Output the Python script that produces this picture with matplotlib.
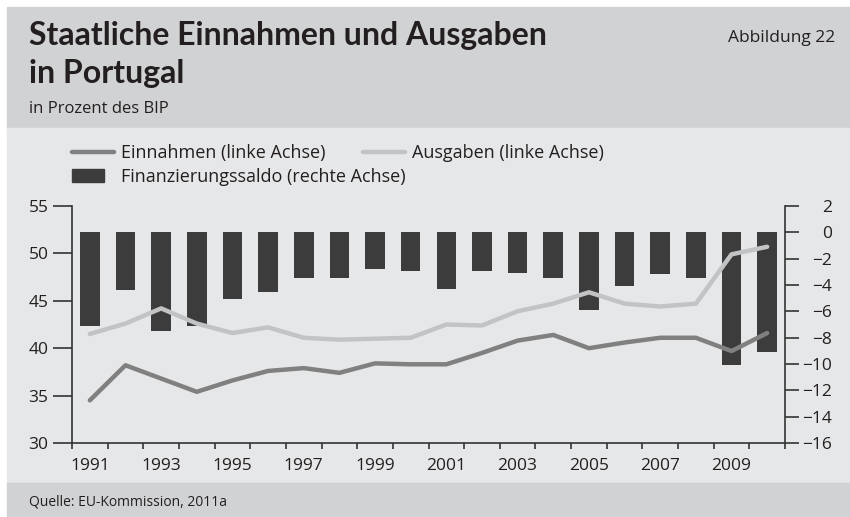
import numpy as np
import matplotlib.pyplot as plt
from matplotlib.patches import Rectangle, Patch
from matplotlib.lines import Line2D

years = np.arange(1991, 2011)
einnahmen = [34.5, 38.2, 36.8, 35.4, 36.6, 37.6, 37.9, 37.4, 38.4, 38.3,
             38.3, 39.5, 40.8, 41.4, 40.0, 40.6, 41.1, 41.1, 39.7, 41.6]
ausgaben = [41.5, 42.6, 44.2, 42.6, 41.6, 42.2, 41.1, 40.9, 41.0, 41.1,
            42.5, 42.4, 43.9, 44.7, 45.9, 44.7, 44.4, 44.7, 49.9, 50.7]
saldo = [-7.1, -4.4, -7.5, -7.1, -5.1, -4.5, -3.5, -3.5, -2.8, -2.9,
         -4.3, -2.9, -3.1, -3.5, -5.9, -4.1, -3.2, -3.5, -10.1, -9.1]
year_labels = [str(y) for y in range(1991, 2010, 2)]

W, H = 850, 517
txt = '#231f20'
plt.rcParams['font.family'] = ['Open Sans', 'DejaVu Sans']

fig = plt.figure(figsize=(W / 100, H / 100), dpi=100)

def px_rect(x0, y0, x1, y1, color):
    # rectangle in pixel coords, y measured from the top
    fig.patches.append(Rectangle((x0 / W, 1 - y1 / H), (x1 - x0) / W, (y1 - y0) / H,
                                 transform=fig.transFigure, color=color, zorder=-10))

px_rect(7, 7, W, 128, '#d1d2d4')
px_rect(7, 128, W, 483, '#e6e7e8')
px_rect(7, 483, W, H, '#d1d2d4')

title_kw = dict(fontsize=23, fontweight='bold', color=txt, va='baseline',
                family=['Lato', 'DejaVu Sans'])
fig.text(29 / W, 1 - 45 / H, 'Staatliche Einnahmen und Ausgaben', **title_kw)
fig.text(29 / W, 1 - 83 / H, 'in Portugal', **title_kw)
fig.text(29 / W, 1 - 113 / H, 'in Prozent des BIP', fontsize=12, color=txt, va='baseline')
fig.text(835 / W, 1 - 42 / H, 'Abbildung 22', fontsize=12.5, color=txt, va='baseline', ha='right')
fig.text(29 / W, 1 - 505 / H, 'Quelle: EU-Kommission, 2011a', fontsize=10, color=txt, va='baseline')

ax = fig.add_axes([72 / W, 74 / H, (785 - 72) / W, 237 / H])
ax.set_facecolor('none')
ax2 = ax.twinx()

ax2.bar(years, saldo, width=0.55, color='#3c3c3c', zorder=1)
ax.set_zorder(ax2.get_zorder() + 1)
ax.plot(years, ausgaben, color='#c2c3c5', lw=3.2, solid_capstyle='round')
ax.plot(years, einnahmen, color='#808080', lw=3.2, solid_capstyle='round')

ax.set_xlim(1990.5, 2010.5)
ax.set_ylim(30, 55)
ax2.set_ylim(-16, 2)

ax.set_xticks(np.arange(1990.5, 2011, 1))
ax.set_xticklabels([])
ax.set_xticks(np.arange(1991, 2010, 2), minor=True)
ax.set_xticklabels(year_labels, minor=True)
ax.tick_params(axis='x', which='major', length=4, width=1.2, color='#333333', direction='out')
ax.tick_params(axis='x', which='minor', length=0, pad=11, labelsize=12.5, labelcolor=txt)

ax.set_yticks(np.arange(30, 56, 5))
ax.tick_params(axis='y', length=14, width=1.2, color='#333333', pad=3, labelsize=12.5, labelcolor=txt)
ax2.set_yticks(np.arange(-16, 3, 2))
ax2.tick_params(axis='y', length=10, width=1.2, color='#333333', pad=24, labelsize=12.5, labelcolor=txt)
for lab in ax2.get_yticklabels():
    lab.set_horizontalalignment('right')

for a in (ax, ax2):
    a.spines['top'].set_visible(False)
    for s in ('left', 'right', 'bottom'):
        a.spines[s].set_color('#333333')
        a.spines[s].set_linewidth(1.2)
ax.spines['right'].set_visible(False)
ax2.spines['left'].set_visible(False)
ax2.spines['bottom'].set_visible(False)

leg_kw = dict(frameon=False, loc='center left', borderpad=0, borderaxespad=0,
              fontsize=13, labelcolor=txt)
l1 = fig.legend([Line2D([], [], color='#808080', lw=3.2, solid_capstyle='round')],
                ['Einnahmen (linke Achse)'], bbox_to_anchor=(72 / W, 1 - 153 / H),
                handlelength=2.3, handletextpad=0.4, **leg_kw)
l2 = fig.legend([Line2D([], [], color='#c2c3c5', lw=3.2, solid_capstyle='round')],
                ['Ausgaben (linke Achse)'], bbox_to_anchor=(363 / W, 1 - 153 / H),
                handlelength=2.3, handletextpad=0.4, **leg_kw)
l3 = fig.legend([Patch(color='#3c3c3c')], ['Finanzierungssaldo (rechte Achse)'],
                bbox_to_anchor=(72 / W, 1 - 177 / H), handlelength=1.75, handleheight=0.75,
                handletextpad=0.95, **leg_kw)

fig.savefig('out.png', dpi=100)
